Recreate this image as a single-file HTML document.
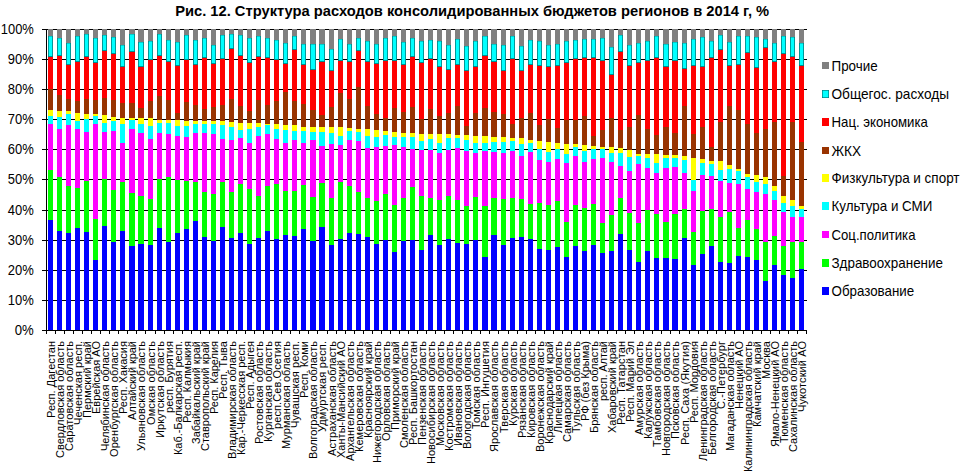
<!DOCTYPE html><html><head><meta charset="utf-8"><title>chart</title><style>
html,body{margin:0;padding:0;background:#fff;}body{width:970px;height:474px;overflow:hidden;font-family:"Liberation Sans",sans-serif;}svg{display:block;}text{font-family:"Liberation Sans",sans-serif;fill:#000;}
</style></head><body>
<svg width="970" height="474" viewBox="0 0 970 474">
<rect x="0" y="0" width="970" height="474" fill="#fff"/>
<g shape-rendering="crispEdges" fill="#000">
<rect x="42" y="29" width="765" height="1"/>
<rect x="42" y="59" width="765" height="1"/>
<rect x="42" y="89" width="765" height="1"/>
<rect x="42" y="119" width="765" height="1"/>
<rect x="42" y="149" width="765" height="1"/>
<rect x="42" y="179" width="765" height="1"/>
<rect x="42" y="210" width="765" height="1"/>
<rect x="42" y="240" width="765" height="1"/>
<rect x="42" y="270" width="765" height="1"/>
<rect x="42" y="300" width="765" height="1"/>
<rect x="42" y="330" width="765" height="1"/>
<rect x="46" y="29" width="1" height="302"/>
<rect x="46" y="330" width="1" height="4"/>
<rect x="55" y="330" width="1" height="4"/>
<rect x="64" y="330" width="1" height="4"/>
<rect x="73" y="330" width="1" height="4"/>
<rect x="82" y="330" width="1" height="4"/>
<rect x="91" y="330" width="1" height="4"/>
<rect x="100" y="330" width="1" height="4"/>
<rect x="109" y="330" width="1" height="4"/>
<rect x="118" y="330" width="1" height="4"/>
<rect x="127" y="330" width="1" height="4"/>
<rect x="136" y="330" width="1" height="4"/>
<rect x="145" y="330" width="1" height="4"/>
<rect x="155" y="330" width="1" height="4"/>
<rect x="164" y="330" width="1" height="4"/>
<rect x="173" y="330" width="1" height="4"/>
<rect x="182" y="330" width="1" height="4"/>
<rect x="191" y="330" width="1" height="4"/>
<rect x="200" y="330" width="1" height="4"/>
<rect x="209" y="330" width="1" height="4"/>
<rect x="218" y="330" width="1" height="4"/>
<rect x="227" y="330" width="1" height="4"/>
<rect x="236" y="330" width="1" height="4"/>
<rect x="245" y="330" width="1" height="4"/>
<rect x="254" y="330" width="1" height="4"/>
<rect x="263" y="330" width="1" height="4"/>
<rect x="272" y="330" width="1" height="4"/>
<rect x="281" y="330" width="1" height="4"/>
<rect x="290" y="330" width="1" height="4"/>
<rect x="299" y="330" width="1" height="4"/>
<rect x="308" y="330" width="1" height="4"/>
<rect x="317" y="330" width="1" height="4"/>
<rect x="327" y="330" width="1" height="4"/>
<rect x="336" y="330" width="1" height="4"/>
<rect x="345" y="330" width="1" height="4"/>
<rect x="354" y="330" width="1" height="4"/>
<rect x="363" y="330" width="1" height="4"/>
<rect x="372" y="330" width="1" height="4"/>
<rect x="381" y="330" width="1" height="4"/>
<rect x="390" y="330" width="1" height="4"/>
<rect x="399" y="330" width="1" height="4"/>
<rect x="408" y="330" width="1" height="4"/>
<rect x="417" y="330" width="1" height="4"/>
<rect x="426" y="330" width="1" height="4"/>
<rect x="435" y="330" width="1" height="4"/>
<rect x="444" y="330" width="1" height="4"/>
<rect x="453" y="330" width="1" height="4"/>
<rect x="462" y="330" width="1" height="4"/>
<rect x="471" y="330" width="1" height="4"/>
<rect x="480" y="330" width="1" height="4"/>
<rect x="489" y="330" width="1" height="4"/>
<rect x="498" y="330" width="1" height="4"/>
<rect x="508" y="330" width="1" height="4"/>
<rect x="517" y="330" width="1" height="4"/>
<rect x="526" y="330" width="1" height="4"/>
<rect x="535" y="330" width="1" height="4"/>
<rect x="544" y="330" width="1" height="4"/>
<rect x="553" y="330" width="1" height="4"/>
<rect x="562" y="330" width="1" height="4"/>
<rect x="571" y="330" width="1" height="4"/>
<rect x="580" y="330" width="1" height="4"/>
<rect x="589" y="330" width="1" height="4"/>
<rect x="598" y="330" width="1" height="4"/>
<rect x="607" y="330" width="1" height="4"/>
<rect x="616" y="330" width="1" height="4"/>
<rect x="625" y="330" width="1" height="4"/>
<rect x="634" y="330" width="1" height="4"/>
<rect x="643" y="330" width="1" height="4"/>
<rect x="652" y="330" width="1" height="4"/>
<rect x="661" y="330" width="1" height="4"/>
<rect x="670" y="330" width="1" height="4"/>
<rect x="679" y="330" width="1" height="4"/>
<rect x="689" y="330" width="1" height="4"/>
<rect x="698" y="330" width="1" height="4"/>
<rect x="707" y="330" width="1" height="4"/>
<rect x="716" y="330" width="1" height="4"/>
<rect x="725" y="330" width="1" height="4"/>
<rect x="734" y="330" width="1" height="4"/>
<rect x="743" y="330" width="1" height="4"/>
<rect x="752" y="330" width="1" height="4"/>
<rect x="761" y="330" width="1" height="4"/>
<rect x="770" y="330" width="1" height="4"/>
<rect x="779" y="330" width="1" height="4"/>
<rect x="788" y="330" width="1" height="4"/>
<rect x="797" y="330" width="1" height="4"/>
<rect x="806" y="330" width="1" height="4"/>
</g>
<g shape-rendering="crispEdges">
<rect x="48" y="220" width="5" height="110" fill="#0000FF"/>
<rect x="48" y="170" width="5" height="50" fill="#00FF00"/>
<rect x="48" y="124" width="5" height="46" fill="#FF00FF"/>
<rect x="48" y="116" width="5" height="8" fill="#00FFFF"/>
<rect x="48" y="110" width="5" height="6" fill="#FFFF00"/>
<rect x="48" y="89" width="5" height="21" fill="#993300"/>
<rect x="48" y="57" width="5" height="32" fill="#FF0000"/>
<rect x="48" y="36" width="5" height="21" fill="#008080"/>
<rect x="48.8" y="36.4" width="3.4" height="19.7" fill="#00FFFF" shape-rendering="auto"/>
<rect x="48" y="29" width="5" height="7" fill="#808080"/>
<rect x="57" y="231" width="5" height="99" fill="#0000FF"/>
<rect x="57" y="177" width="5" height="54" fill="#00FF00"/>
<rect x="57" y="129" width="5" height="48" fill="#FF00FF"/>
<rect x="57" y="117" width="5" height="12" fill="#00FFFF"/>
<rect x="57" y="111" width="5" height="6" fill="#FFFF00"/>
<rect x="57" y="95" width="5" height="16" fill="#993300"/>
<rect x="57" y="56" width="5" height="39" fill="#FF0000"/>
<rect x="57" y="38" width="5" height="18" fill="#008080"/>
<rect x="57.8" y="38.4" width="3.4" height="16.7" fill="#00FFFF" shape-rendering="auto"/>
<rect x="57" y="29" width="5" height="9" fill="#808080"/>
<rect x="66" y="233" width="5" height="97" fill="#0000FF"/>
<rect x="66" y="186" width="5" height="47" fill="#00FF00"/>
<rect x="66" y="125" width="5" height="61" fill="#FF00FF"/>
<rect x="66" y="114" width="5" height="11" fill="#00FFFF"/>
<rect x="66" y="111" width="5" height="3" fill="#FFFF00"/>
<rect x="66" y="99" width="5" height="12" fill="#993300"/>
<rect x="66" y="65" width="5" height="34" fill="#FF0000"/>
<rect x="66" y="43" width="5" height="22" fill="#008080"/>
<rect x="66.8" y="43.4" width="3.4" height="20.7" fill="#00FFFF" shape-rendering="auto"/>
<rect x="66" y="29" width="5" height="14" fill="#808080"/>
<rect x="75" y="228" width="5" height="102" fill="#0000FF"/>
<rect x="75" y="188" width="5" height="40" fill="#00FF00"/>
<rect x="75" y="129" width="5" height="59" fill="#FF00FF"/>
<rect x="75" y="121" width="5" height="8" fill="#00FFFF"/>
<rect x="75" y="113" width="5" height="8" fill="#FFFF00"/>
<rect x="75" y="101" width="5" height="12" fill="#993300"/>
<rect x="75" y="62" width="5" height="39" fill="#FF0000"/>
<rect x="75" y="36" width="5" height="26" fill="#008080"/>
<rect x="75.8" y="36.4" width="3.4" height="24.7" fill="#00FFFF" shape-rendering="auto"/>
<rect x="75" y="29" width="5" height="7" fill="#808080"/>
<rect x="84" y="232" width="5" height="98" fill="#0000FF"/>
<rect x="84" y="181" width="5" height="51" fill="#00FF00"/>
<rect x="84" y="132" width="5" height="49" fill="#FF00FF"/>
<rect x="84" y="119" width="5" height="13" fill="#00FFFF"/>
<rect x="84" y="114" width="5" height="5" fill="#FFFF00"/>
<rect x="84" y="99" width="5" height="15" fill="#993300"/>
<rect x="84" y="57" width="5" height="42" fill="#FF0000"/>
<rect x="84" y="34" width="5" height="23" fill="#008080"/>
<rect x="84.8" y="34.4" width="3.4" height="21.7" fill="#00FFFF" shape-rendering="auto"/>
<rect x="84" y="29" width="5" height="5" fill="#808080"/>
<rect x="93" y="260" width="5" height="70" fill="#0000FF"/>
<rect x="93" y="219" width="5" height="41" fill="#00FF00"/>
<rect x="93" y="124" width="5" height="95" fill="#FF00FF"/>
<rect x="93" y="116" width="5" height="8" fill="#00FFFF"/>
<rect x="93" y="114" width="5" height="2" fill="#FFFF00"/>
<rect x="93" y="100" width="5" height="14" fill="#993300"/>
<rect x="93" y="63" width="5" height="37" fill="#FF0000"/>
<rect x="93" y="38" width="5" height="25" fill="#008080"/>
<rect x="93.8" y="38.4" width="3.4" height="23.7" fill="#00FFFF" shape-rendering="auto"/>
<rect x="93" y="29" width="5" height="9" fill="#808080"/>
<rect x="102" y="226" width="5" height="104" fill="#0000FF"/>
<rect x="102" y="179" width="5" height="47" fill="#00FF00"/>
<rect x="102" y="132" width="5" height="47" fill="#FF00FF"/>
<rect x="102" y="123" width="5" height="9" fill="#00FFFF"/>
<rect x="102" y="115" width="5" height="8" fill="#FFFF00"/>
<rect x="102" y="98" width="5" height="17" fill="#993300"/>
<rect x="102" y="51" width="5" height="47" fill="#FF0000"/>
<rect x="102" y="35" width="5" height="16" fill="#008080"/>
<rect x="102.8" y="35.4" width="3.4" height="14.7" fill="#00FFFF" shape-rendering="auto"/>
<rect x="102" y="29" width="5" height="6" fill="#808080"/>
<rect x="111" y="242" width="5" height="88" fill="#0000FF"/>
<rect x="111" y="190" width="5" height="52" fill="#00FF00"/>
<rect x="111" y="131" width="5" height="59" fill="#FF00FF"/>
<rect x="111" y="121" width="5" height="10" fill="#00FFFF"/>
<rect x="111" y="117" width="5" height="4" fill="#FFFF00"/>
<rect x="111" y="100" width="5" height="17" fill="#993300"/>
<rect x="111" y="54" width="5" height="46" fill="#FF0000"/>
<rect x="111" y="37" width="5" height="17" fill="#008080"/>
<rect x="111.8" y="37.4" width="3.4" height="15.7" fill="#00FFFF" shape-rendering="auto"/>
<rect x="111" y="29" width="5" height="8" fill="#808080"/>
<rect x="120" y="231" width="5" height="99" fill="#0000FF"/>
<rect x="120" y="182" width="5" height="49" fill="#00FF00"/>
<rect x="120" y="143" width="5" height="39" fill="#FF00FF"/>
<rect x="120" y="124" width="5" height="19" fill="#00FFFF"/>
<rect x="120" y="118" width="5" height="6" fill="#FFFF00"/>
<rect x="120" y="103" width="5" height="15" fill="#993300"/>
<rect x="120" y="67" width="5" height="36" fill="#FF0000"/>
<rect x="120" y="45" width="5" height="22" fill="#008080"/>
<rect x="120.8" y="45.4" width="3.4" height="20.7" fill="#00FFFF" shape-rendering="auto"/>
<rect x="120" y="29" width="5" height="16" fill="#808080"/>
<rect x="129" y="246" width="6" height="84" fill="#0000FF"/>
<rect x="129" y="193" width="6" height="53" fill="#00FF00"/>
<rect x="129" y="129" width="6" height="64" fill="#FF00FF"/>
<rect x="129" y="120" width="6" height="9" fill="#00FFFF"/>
<rect x="129" y="118" width="6" height="2" fill="#FFFF00"/>
<rect x="129" y="103" width="6" height="15" fill="#993300"/>
<rect x="129" y="52" width="6" height="51" fill="#FF0000"/>
<rect x="129" y="34" width="6" height="18" fill="#008080"/>
<rect x="129.8" y="34.4" width="4.4" height="16.7" fill="#00FFFF" shape-rendering="auto"/>
<rect x="129" y="29" width="6" height="5" fill="#808080"/>
<rect x="138" y="244" width="6" height="86" fill="#0000FF"/>
<rect x="138" y="196" width="6" height="48" fill="#00FF00"/>
<rect x="138" y="133" width="6" height="63" fill="#FF00FF"/>
<rect x="138" y="124" width="6" height="9" fill="#00FFFF"/>
<rect x="138" y="118" width="6" height="6" fill="#FFFF00"/>
<rect x="138" y="108" width="6" height="10" fill="#993300"/>
<rect x="138" y="67" width="6" height="41" fill="#FF0000"/>
<rect x="138" y="42" width="6" height="25" fill="#008080"/>
<rect x="138.8" y="42.4" width="4.4" height="23.7" fill="#00FFFF" shape-rendering="auto"/>
<rect x="138" y="29" width="6" height="13" fill="#808080"/>
<rect x="148" y="245" width="5" height="85" fill="#0000FF"/>
<rect x="148" y="199" width="5" height="46" fill="#00FF00"/>
<rect x="148" y="139" width="5" height="60" fill="#FF00FF"/>
<rect x="148" y="126" width="5" height="13" fill="#00FFFF"/>
<rect x="148" y="118" width="5" height="8" fill="#FFFF00"/>
<rect x="148" y="101" width="5" height="17" fill="#993300"/>
<rect x="148" y="60" width="5" height="41" fill="#FF0000"/>
<rect x="148" y="41" width="5" height="19" fill="#008080"/>
<rect x="148.8" y="41.4" width="3.4" height="17.7" fill="#00FFFF" shape-rendering="auto"/>
<rect x="148" y="29" width="5" height="12" fill="#808080"/>
<rect x="157" y="228" width="5" height="102" fill="#0000FF"/>
<rect x="157" y="179" width="5" height="49" fill="#00FF00"/>
<rect x="157" y="133" width="5" height="46" fill="#FF00FF"/>
<rect x="157" y="123" width="5" height="10" fill="#00FFFF"/>
<rect x="157" y="120" width="5" height="3" fill="#FFFF00"/>
<rect x="157" y="96" width="5" height="24" fill="#993300"/>
<rect x="157" y="56" width="5" height="40" fill="#FF0000"/>
<rect x="157" y="34" width="5" height="22" fill="#008080"/>
<rect x="157.8" y="34.4" width="3.4" height="20.7" fill="#00FFFF" shape-rendering="auto"/>
<rect x="157" y="29" width="5" height="5" fill="#808080"/>
<rect x="166" y="242" width="5" height="88" fill="#0000FF"/>
<rect x="166" y="177" width="5" height="65" fill="#00FF00"/>
<rect x="166" y="134" width="5" height="43" fill="#FF00FF"/>
<rect x="166" y="123" width="5" height="11" fill="#00FFFF"/>
<rect x="166" y="120" width="5" height="3" fill="#FFFF00"/>
<rect x="166" y="100" width="5" height="20" fill="#993300"/>
<rect x="166" y="62" width="5" height="38" fill="#FF0000"/>
<rect x="166" y="40" width="5" height="22" fill="#008080"/>
<rect x="166.8" y="40.4" width="3.4" height="20.7" fill="#00FFFF" shape-rendering="auto"/>
<rect x="166" y="29" width="5" height="11" fill="#808080"/>
<rect x="175" y="233" width="5" height="97" fill="#0000FF"/>
<rect x="175" y="180" width="5" height="53" fill="#00FF00"/>
<rect x="175" y="136" width="5" height="44" fill="#FF00FF"/>
<rect x="175" y="126" width="5" height="10" fill="#00FFFF"/>
<rect x="175" y="120" width="5" height="6" fill="#FFFF00"/>
<rect x="175" y="113" width="5" height="7" fill="#993300"/>
<rect x="175" y="66" width="5" height="47" fill="#FF0000"/>
<rect x="175" y="42" width="5" height="24" fill="#008080"/>
<rect x="175.8" y="42.4" width="3.4" height="22.7" fill="#00FFFF" shape-rendering="auto"/>
<rect x="175" y="29" width="5" height="13" fill="#808080"/>
<rect x="184" y="229" width="5" height="101" fill="#0000FF"/>
<rect x="184" y="181" width="5" height="48" fill="#00FF00"/>
<rect x="184" y="137" width="5" height="44" fill="#FF00FF"/>
<rect x="184" y="126" width="5" height="11" fill="#00FFFF"/>
<rect x="184" y="121" width="5" height="5" fill="#FFFF00"/>
<rect x="184" y="102" width="5" height="19" fill="#993300"/>
<rect x="184" y="60" width="5" height="42" fill="#FF0000"/>
<rect x="184" y="35" width="5" height="25" fill="#008080"/>
<rect x="184.8" y="35.4" width="3.4" height="23.7" fill="#00FFFF" shape-rendering="auto"/>
<rect x="184" y="29" width="5" height="6" fill="#808080"/>
<rect x="193" y="221" width="5" height="109" fill="#0000FF"/>
<rect x="193" y="182" width="5" height="39" fill="#00FF00"/>
<rect x="193" y="133" width="5" height="49" fill="#FF00FF"/>
<rect x="193" y="124" width="5" height="9" fill="#00FFFF"/>
<rect x="193" y="121" width="5" height="3" fill="#FFFF00"/>
<rect x="193" y="105" width="5" height="16" fill="#993300"/>
<rect x="193" y="65" width="5" height="40" fill="#FF0000"/>
<rect x="193" y="40" width="5" height="25" fill="#008080"/>
<rect x="193.8" y="40.4" width="3.4" height="23.7" fill="#00FFFF" shape-rendering="auto"/>
<rect x="193" y="29" width="5" height="11" fill="#808080"/>
<rect x="202" y="237" width="5" height="93" fill="#0000FF"/>
<rect x="202" y="192" width="5" height="45" fill="#00FF00"/>
<rect x="202" y="133" width="5" height="59" fill="#FF00FF"/>
<rect x="202" y="124" width="5" height="9" fill="#00FFFF"/>
<rect x="202" y="121" width="5" height="3" fill="#FFFF00"/>
<rect x="202" y="109" width="5" height="12" fill="#993300"/>
<rect x="202" y="58" width="5" height="51" fill="#FF0000"/>
<rect x="202" y="38" width="5" height="20" fill="#008080"/>
<rect x="202.8" y="38.4" width="3.4" height="18.7" fill="#00FFFF" shape-rendering="auto"/>
<rect x="202" y="29" width="5" height="9" fill="#808080"/>
<rect x="211" y="241" width="5" height="89" fill="#0000FF"/>
<rect x="211" y="194" width="5" height="47" fill="#00FF00"/>
<rect x="211" y="134" width="5" height="60" fill="#FF00FF"/>
<rect x="211" y="124" width="5" height="10" fill="#00FFFF"/>
<rect x="211" y="121" width="5" height="3" fill="#FFFF00"/>
<rect x="211" y="107" width="5" height="14" fill="#993300"/>
<rect x="211" y="64" width="5" height="43" fill="#FF0000"/>
<rect x="211" y="45" width="5" height="19" fill="#008080"/>
<rect x="211.8" y="45.4" width="3.4" height="17.7" fill="#00FFFF" shape-rendering="auto"/>
<rect x="211" y="29" width="5" height="16" fill="#808080"/>
<rect x="220" y="227" width="5" height="103" fill="#0000FF"/>
<rect x="220" y="182" width="5" height="45" fill="#00FF00"/>
<rect x="220" y="139" width="5" height="43" fill="#FF00FF"/>
<rect x="220" y="125" width="5" height="14" fill="#00FFFF"/>
<rect x="220" y="121" width="5" height="4" fill="#FFFF00"/>
<rect x="220" y="105" width="5" height="16" fill="#993300"/>
<rect x="220" y="59" width="5" height="46" fill="#FF0000"/>
<rect x="220" y="35" width="5" height="24" fill="#008080"/>
<rect x="220.8" y="35.4" width="3.4" height="22.7" fill="#00FFFF" shape-rendering="auto"/>
<rect x="220" y="29" width="5" height="6" fill="#808080"/>
<rect x="229" y="238" width="5" height="92" fill="#0000FF"/>
<rect x="229" y="192" width="5" height="46" fill="#00FF00"/>
<rect x="229" y="140" width="5" height="52" fill="#FF00FF"/>
<rect x="229" y="127" width="5" height="13" fill="#00FFFF"/>
<rect x="229" y="122" width="5" height="5" fill="#FFFF00"/>
<rect x="229" y="99" width="5" height="23" fill="#993300"/>
<rect x="229" y="49" width="5" height="50" fill="#FF0000"/>
<rect x="229" y="34" width="5" height="15" fill="#008080"/>
<rect x="229.8" y="34.4" width="3.4" height="13.7" fill="#00FFFF" shape-rendering="auto"/>
<rect x="229" y="29" width="5" height="5" fill="#808080"/>
<rect x="238" y="233" width="5" height="97" fill="#0000FF"/>
<rect x="238" y="184" width="5" height="49" fill="#00FF00"/>
<rect x="238" y="138" width="5" height="46" fill="#FF00FF"/>
<rect x="238" y="130" width="5" height="8" fill="#00FFFF"/>
<rect x="238" y="123" width="5" height="7" fill="#FFFF00"/>
<rect x="238" y="106" width="5" height="17" fill="#993300"/>
<rect x="238" y="56" width="5" height="50" fill="#FF0000"/>
<rect x="238" y="35" width="5" height="21" fill="#008080"/>
<rect x="238.8" y="35.4" width="3.4" height="19.7" fill="#00FFFF" shape-rendering="auto"/>
<rect x="238" y="29" width="5" height="6" fill="#808080"/>
<rect x="247" y="244" width="5" height="86" fill="#0000FF"/>
<rect x="247" y="189" width="5" height="55" fill="#00FF00"/>
<rect x="247" y="143" width="5" height="46" fill="#FF00FF"/>
<rect x="247" y="129" width="5" height="14" fill="#00FFFF"/>
<rect x="247" y="123" width="5" height="6" fill="#FFFF00"/>
<rect x="247" y="111" width="5" height="12" fill="#993300"/>
<rect x="247" y="63" width="5" height="48" fill="#FF0000"/>
<rect x="247" y="38" width="5" height="25" fill="#008080"/>
<rect x="247.8" y="38.4" width="3.4" height="23.7" fill="#00FFFF" shape-rendering="auto"/>
<rect x="247" y="29" width="5" height="9" fill="#808080"/>
<rect x="256" y="238" width="5" height="92" fill="#0000FF"/>
<rect x="256" y="196" width="5" height="42" fill="#00FF00"/>
<rect x="256" y="136" width="5" height="60" fill="#FF00FF"/>
<rect x="256" y="127" width="5" height="9" fill="#00FFFF"/>
<rect x="256" y="123" width="5" height="4" fill="#FFFF00"/>
<rect x="256" y="100" width="5" height="23" fill="#993300"/>
<rect x="256" y="57" width="5" height="43" fill="#FF0000"/>
<rect x="256" y="36" width="5" height="21" fill="#008080"/>
<rect x="256.8" y="36.4" width="3.4" height="19.7" fill="#00FFFF" shape-rendering="auto"/>
<rect x="256" y="29" width="5" height="7" fill="#808080"/>
<rect x="265" y="231" width="5" height="99" fill="#0000FF"/>
<rect x="265" y="186" width="5" height="45" fill="#00FF00"/>
<rect x="265" y="134" width="5" height="52" fill="#FF00FF"/>
<rect x="265" y="125" width="5" height="9" fill="#00FFFF"/>
<rect x="265" y="124" width="5" height="1" fill="#FFFF00"/>
<rect x="265" y="105" width="5" height="19" fill="#993300"/>
<rect x="265" y="58" width="5" height="47" fill="#FF0000"/>
<rect x="265" y="38" width="5" height="20" fill="#008080"/>
<rect x="265.8" y="38.4" width="3.4" height="18.7" fill="#00FFFF" shape-rendering="auto"/>
<rect x="265" y="29" width="5" height="9" fill="#808080"/>
<rect x="274" y="239" width="5" height="91" fill="#0000FF"/>
<rect x="274" y="184" width="5" height="55" fill="#00FF00"/>
<rect x="274" y="139" width="5" height="45" fill="#FF00FF"/>
<rect x="274" y="129" width="5" height="10" fill="#00FFFF"/>
<rect x="274" y="124" width="5" height="5" fill="#FFFF00"/>
<rect x="274" y="101" width="5" height="23" fill="#993300"/>
<rect x="274" y="60" width="5" height="41" fill="#FF0000"/>
<rect x="274" y="40" width="5" height="20" fill="#008080"/>
<rect x="274.8" y="40.4" width="3.4" height="18.7" fill="#00FFFF" shape-rendering="auto"/>
<rect x="274" y="29" width="5" height="11" fill="#808080"/>
<rect x="283" y="235" width="5" height="95" fill="#0000FF"/>
<rect x="283" y="191" width="5" height="44" fill="#00FF00"/>
<rect x="283" y="143" width="5" height="48" fill="#FF00FF"/>
<rect x="283" y="130" width="5" height="13" fill="#00FFFF"/>
<rect x="283" y="125" width="5" height="5" fill="#FFFF00"/>
<rect x="283" y="92" width="5" height="33" fill="#993300"/>
<rect x="283" y="64" width="5" height="28" fill="#FF0000"/>
<rect x="283" y="43" width="5" height="21" fill="#008080"/>
<rect x="283.8" y="43.4" width="3.4" height="19.7" fill="#00FFFF" shape-rendering="auto"/>
<rect x="283" y="29" width="5" height="14" fill="#808080"/>
<rect x="292" y="236" width="5" height="94" fill="#0000FF"/>
<rect x="292" y="191" width="5" height="45" fill="#00FF00"/>
<rect x="292" y="140" width="5" height="51" fill="#FF00FF"/>
<rect x="292" y="131" width="5" height="9" fill="#00FFFF"/>
<rect x="292" y="125" width="5" height="6" fill="#FFFF00"/>
<rect x="292" y="101" width="5" height="24" fill="#993300"/>
<rect x="292" y="50" width="5" height="51" fill="#FF0000"/>
<rect x="292" y="36" width="5" height="14" fill="#008080"/>
<rect x="292.8" y="36.4" width="3.4" height="12.7" fill="#00FFFF" shape-rendering="auto"/>
<rect x="292" y="29" width="5" height="7" fill="#808080"/>
<rect x="301" y="229" width="5" height="101" fill="#0000FF"/>
<rect x="301" y="185" width="5" height="44" fill="#00FF00"/>
<rect x="301" y="143" width="5" height="42" fill="#FF00FF"/>
<rect x="301" y="131" width="5" height="12" fill="#00FFFF"/>
<rect x="301" y="127" width="5" height="4" fill="#FFFF00"/>
<rect x="301" y="104" width="5" height="23" fill="#993300"/>
<rect x="301" y="65" width="5" height="39" fill="#FF0000"/>
<rect x="301" y="44" width="5" height="21" fill="#008080"/>
<rect x="301.8" y="44.4" width="3.4" height="19.7" fill="#00FFFF" shape-rendering="auto"/>
<rect x="301" y="29" width="5" height="15" fill="#808080"/>
<rect x="310" y="241" width="6" height="89" fill="#0000FF"/>
<rect x="310" y="197" width="6" height="44" fill="#00FF00"/>
<rect x="310" y="140" width="6" height="57" fill="#FF00FF"/>
<rect x="310" y="132" width="6" height="8" fill="#00FFFF"/>
<rect x="310" y="127" width="6" height="5" fill="#FFFF00"/>
<rect x="310" y="110" width="6" height="17" fill="#993300"/>
<rect x="310" y="70" width="6" height="40" fill="#FF0000"/>
<rect x="310" y="44" width="6" height="26" fill="#008080"/>
<rect x="310.8" y="44.4" width="4.4" height="24.7" fill="#00FFFF" shape-rendering="auto"/>
<rect x="310" y="29" width="6" height="15" fill="#808080"/>
<rect x="319" y="227" width="6" height="103" fill="#0000FF"/>
<rect x="319" y="183" width="6" height="44" fill="#00FF00"/>
<rect x="319" y="146" width="6" height="37" fill="#FF00FF"/>
<rect x="319" y="132" width="6" height="14" fill="#00FFFF"/>
<rect x="319" y="127" width="6" height="5" fill="#FFFF00"/>
<rect x="319" y="115" width="6" height="12" fill="#993300"/>
<rect x="319" y="62" width="6" height="53" fill="#FF0000"/>
<rect x="319" y="44" width="6" height="18" fill="#008080"/>
<rect x="319.8" y="44.4" width="4.4" height="16.7" fill="#00FFFF" shape-rendering="auto"/>
<rect x="319" y="29" width="6" height="15" fill="#808080"/>
<rect x="329" y="245" width="5" height="85" fill="#0000FF"/>
<rect x="329" y="198" width="5" height="47" fill="#00FF00"/>
<rect x="329" y="144" width="5" height="54" fill="#FF00FF"/>
<rect x="329" y="133" width="5" height="11" fill="#00FFFF"/>
<rect x="329" y="127" width="5" height="6" fill="#FFFF00"/>
<rect x="329" y="107" width="5" height="20" fill="#993300"/>
<rect x="329" y="71" width="5" height="36" fill="#FF0000"/>
<rect x="329" y="49" width="5" height="22" fill="#008080"/>
<rect x="329.8" y="49.4" width="3.4" height="20.7" fill="#00FFFF" shape-rendering="auto"/>
<rect x="329" y="29" width="5" height="20" fill="#808080"/>
<rect x="338" y="239" width="5" height="91" fill="#0000FF"/>
<rect x="338" y="182" width="5" height="57" fill="#00FF00"/>
<rect x="338" y="145" width="5" height="37" fill="#FF00FF"/>
<rect x="338" y="136" width="5" height="9" fill="#00FFFF"/>
<rect x="338" y="127" width="5" height="9" fill="#FFFF00"/>
<rect x="338" y="93" width="5" height="34" fill="#993300"/>
<rect x="338" y="61" width="5" height="32" fill="#FF0000"/>
<rect x="338" y="39" width="5" height="22" fill="#008080"/>
<rect x="338.8" y="39.4" width="3.4" height="20.7" fill="#00FFFF" shape-rendering="auto"/>
<rect x="338" y="29" width="5" height="10" fill="#808080"/>
<rect x="347" y="233" width="5" height="97" fill="#0000FF"/>
<rect x="347" y="186" width="5" height="47" fill="#00FF00"/>
<rect x="347" y="140" width="5" height="46" fill="#FF00FF"/>
<rect x="347" y="131" width="5" height="9" fill="#00FFFF"/>
<rect x="347" y="128" width="5" height="3" fill="#FFFF00"/>
<rect x="347" y="99" width="5" height="29" fill="#993300"/>
<rect x="347" y="62" width="5" height="37" fill="#FF0000"/>
<rect x="347" y="44" width="5" height="18" fill="#008080"/>
<rect x="347.8" y="44.4" width="3.4" height="16.7" fill="#00FFFF" shape-rendering="auto"/>
<rect x="347" y="29" width="5" height="15" fill="#808080"/>
<rect x="356" y="234" width="5" height="96" fill="#0000FF"/>
<rect x="356" y="192" width="5" height="42" fill="#00FF00"/>
<rect x="356" y="141" width="5" height="51" fill="#FF00FF"/>
<rect x="356" y="132" width="5" height="9" fill="#00FFFF"/>
<rect x="356" y="129" width="5" height="3" fill="#FFFF00"/>
<rect x="356" y="87" width="5" height="42" fill="#993300"/>
<rect x="356" y="51" width="5" height="36" fill="#FF0000"/>
<rect x="356" y="38" width="5" height="13" fill="#008080"/>
<rect x="356.8" y="38.4" width="3.4" height="11.7" fill="#00FFFF" shape-rendering="auto"/>
<rect x="356" y="29" width="5" height="9" fill="#808080"/>
<rect x="365" y="237" width="5" height="93" fill="#0000FF"/>
<rect x="365" y="198" width="5" height="39" fill="#00FF00"/>
<rect x="365" y="148" width="5" height="50" fill="#FF00FF"/>
<rect x="365" y="136" width="5" height="12" fill="#00FFFF"/>
<rect x="365" y="129" width="5" height="7" fill="#FFFF00"/>
<rect x="365" y="106" width="5" height="23" fill="#993300"/>
<rect x="365" y="62" width="5" height="44" fill="#FF0000"/>
<rect x="365" y="41" width="5" height="21" fill="#008080"/>
<rect x="365.8" y="41.4" width="3.4" height="19.7" fill="#00FFFF" shape-rendering="auto"/>
<rect x="365" y="29" width="5" height="12" fill="#808080"/>
<rect x="374" y="244" width="5" height="86" fill="#0000FF"/>
<rect x="374" y="201" width="5" height="43" fill="#00FF00"/>
<rect x="374" y="147" width="5" height="54" fill="#FF00FF"/>
<rect x="374" y="137" width="5" height="10" fill="#00FFFF"/>
<rect x="374" y="130" width="5" height="7" fill="#FFFF00"/>
<rect x="374" y="114" width="5" height="16" fill="#993300"/>
<rect x="374" y="64" width="5" height="50" fill="#FF0000"/>
<rect x="374" y="44" width="5" height="20" fill="#008080"/>
<rect x="374.8" y="44.4" width="3.4" height="18.7" fill="#00FFFF" shape-rendering="auto"/>
<rect x="374" y="29" width="5" height="15" fill="#808080"/>
<rect x="383" y="240" width="5" height="90" fill="#0000FF"/>
<rect x="383" y="194" width="5" height="46" fill="#00FF00"/>
<rect x="383" y="146" width="5" height="48" fill="#FF00FF"/>
<rect x="383" y="135" width="5" height="11" fill="#00FFFF"/>
<rect x="383" y="131" width="5" height="4" fill="#FFFF00"/>
<rect x="383" y="118" width="5" height="13" fill="#993300"/>
<rect x="383" y="61" width="5" height="57" fill="#FF0000"/>
<rect x="383" y="38" width="5" height="23" fill="#008080"/>
<rect x="383.8" y="38.4" width="3.4" height="21.7" fill="#00FFFF" shape-rendering="auto"/>
<rect x="383" y="29" width="5" height="9" fill="#808080"/>
<rect x="392" y="252" width="5" height="78" fill="#0000FF"/>
<rect x="392" y="205" width="5" height="47" fill="#00FF00"/>
<rect x="392" y="145" width="5" height="60" fill="#FF00FF"/>
<rect x="392" y="137" width="5" height="8" fill="#00FFFF"/>
<rect x="392" y="132" width="5" height="5" fill="#FFFF00"/>
<rect x="392" y="108" width="5" height="24" fill="#993300"/>
<rect x="392" y="61" width="5" height="47" fill="#FF0000"/>
<rect x="392" y="36" width="5" height="25" fill="#008080"/>
<rect x="392.8" y="36.4" width="3.4" height="23.7" fill="#00FFFF" shape-rendering="auto"/>
<rect x="392" y="29" width="5" height="7" fill="#808080"/>
<rect x="401" y="241" width="5" height="89" fill="#0000FF"/>
<rect x="401" y="198" width="5" height="43" fill="#00FF00"/>
<rect x="401" y="147" width="5" height="51" fill="#FF00FF"/>
<rect x="401" y="137" width="5" height="10" fill="#00FFFF"/>
<rect x="401" y="133" width="5" height="4" fill="#FFFF00"/>
<rect x="401" y="112" width="5" height="21" fill="#993300"/>
<rect x="401" y="65" width="5" height="47" fill="#FF0000"/>
<rect x="401" y="42" width="5" height="23" fill="#008080"/>
<rect x="401.8" y="42.4" width="3.4" height="21.7" fill="#00FFFF" shape-rendering="auto"/>
<rect x="401" y="29" width="5" height="13" fill="#808080"/>
<rect x="410" y="240" width="5" height="90" fill="#0000FF"/>
<rect x="410" y="187" width="5" height="53" fill="#00FF00"/>
<rect x="410" y="149" width="5" height="38" fill="#FF00FF"/>
<rect x="410" y="137" width="5" height="12" fill="#00FFFF"/>
<rect x="410" y="133" width="5" height="4" fill="#FFFF00"/>
<rect x="410" y="107" width="5" height="26" fill="#993300"/>
<rect x="410" y="57" width="5" height="50" fill="#FF0000"/>
<rect x="410" y="38" width="5" height="19" fill="#008080"/>
<rect x="410.8" y="38.4" width="3.4" height="17.7" fill="#00FFFF" shape-rendering="auto"/>
<rect x="410" y="29" width="5" height="9" fill="#808080"/>
<rect x="419" y="250" width="5" height="80" fill="#0000FF"/>
<rect x="419" y="196" width="5" height="54" fill="#00FF00"/>
<rect x="419" y="150" width="5" height="46" fill="#FF00FF"/>
<rect x="419" y="141" width="5" height="9" fill="#00FFFF"/>
<rect x="419" y="134" width="5" height="7" fill="#FFFF00"/>
<rect x="419" y="119" width="5" height="15" fill="#993300"/>
<rect x="419" y="63" width="5" height="56" fill="#FF0000"/>
<rect x="419" y="41" width="5" height="22" fill="#008080"/>
<rect x="419.8" y="41.4" width="3.4" height="20.7" fill="#00FFFF" shape-rendering="auto"/>
<rect x="419" y="29" width="5" height="12" fill="#808080"/>
<rect x="428" y="235" width="5" height="95" fill="#0000FF"/>
<rect x="428" y="198" width="5" height="37" fill="#00FF00"/>
<rect x="428" y="150" width="5" height="48" fill="#FF00FF"/>
<rect x="428" y="139" width="5" height="11" fill="#00FFFF"/>
<rect x="428" y="134" width="5" height="5" fill="#FFFF00"/>
<rect x="428" y="109" width="5" height="25" fill="#993300"/>
<rect x="428" y="59" width="5" height="50" fill="#FF0000"/>
<rect x="428" y="40" width="5" height="19" fill="#008080"/>
<rect x="428.8" y="40.4" width="3.4" height="17.7" fill="#00FFFF" shape-rendering="auto"/>
<rect x="428" y="29" width="5" height="11" fill="#808080"/>
<rect x="437" y="245" width="5" height="85" fill="#0000FF"/>
<rect x="437" y="200" width="5" height="45" fill="#00FF00"/>
<rect x="437" y="153" width="5" height="47" fill="#FF00FF"/>
<rect x="437" y="143" width="5" height="10" fill="#00FFFF"/>
<rect x="437" y="134" width="5" height="9" fill="#FFFF00"/>
<rect x="437" y="116" width="5" height="18" fill="#993300"/>
<rect x="437" y="67" width="5" height="49" fill="#FF0000"/>
<rect x="437" y="41" width="5" height="26" fill="#008080"/>
<rect x="437.8" y="41.4" width="3.4" height="24.7" fill="#00FFFF" shape-rendering="auto"/>
<rect x="437" y="29" width="5" height="12" fill="#808080"/>
<rect x="446" y="239" width="5" height="91" fill="#0000FF"/>
<rect x="446" y="196" width="5" height="43" fill="#00FF00"/>
<rect x="446" y="150" width="5" height="46" fill="#FF00FF"/>
<rect x="446" y="138" width="5" height="12" fill="#00FFFF"/>
<rect x="446" y="134" width="5" height="4" fill="#FFFF00"/>
<rect x="446" y="113" width="5" height="21" fill="#993300"/>
<rect x="446" y="70" width="5" height="43" fill="#FF0000"/>
<rect x="446" y="45" width="5" height="25" fill="#008080"/>
<rect x="446.8" y="45.4" width="3.4" height="23.7" fill="#00FFFF" shape-rendering="auto"/>
<rect x="446" y="29" width="5" height="16" fill="#808080"/>
<rect x="455" y="243" width="5" height="87" fill="#0000FF"/>
<rect x="455" y="200" width="5" height="43" fill="#00FF00"/>
<rect x="455" y="148" width="5" height="52" fill="#FF00FF"/>
<rect x="455" y="138" width="5" height="10" fill="#00FFFF"/>
<rect x="455" y="135" width="5" height="3" fill="#FFFF00"/>
<rect x="455" y="106" width="5" height="29" fill="#993300"/>
<rect x="455" y="65" width="5" height="41" fill="#FF0000"/>
<rect x="455" y="39" width="5" height="26" fill="#008080"/>
<rect x="455.8" y="39.4" width="3.4" height="24.7" fill="#00FFFF" shape-rendering="auto"/>
<rect x="455" y="29" width="5" height="10" fill="#808080"/>
<rect x="464" y="244" width="5" height="86" fill="#0000FF"/>
<rect x="464" y="206" width="5" height="38" fill="#00FF00"/>
<rect x="464" y="151" width="5" height="55" fill="#FF00FF"/>
<rect x="464" y="140" width="5" height="11" fill="#00FFFF"/>
<rect x="464" y="135" width="5" height="5" fill="#FFFF00"/>
<rect x="464" y="126" width="5" height="9" fill="#993300"/>
<rect x="464" y="71" width="5" height="55" fill="#FF0000"/>
<rect x="464" y="46" width="5" height="25" fill="#008080"/>
<rect x="464.8" y="46.4" width="3.4" height="23.7" fill="#00FFFF" shape-rendering="auto"/>
<rect x="464" y="29" width="5" height="17" fill="#808080"/>
<rect x="473" y="240" width="5" height="90" fill="#0000FF"/>
<rect x="473" y="197" width="5" height="43" fill="#00FF00"/>
<rect x="473" y="153" width="5" height="44" fill="#FF00FF"/>
<rect x="473" y="143" width="5" height="10" fill="#00FFFF"/>
<rect x="473" y="136" width="5" height="7" fill="#FFFF00"/>
<rect x="473" y="113" width="5" height="23" fill="#993300"/>
<rect x="473" y="67" width="5" height="46" fill="#FF0000"/>
<rect x="473" y="41" width="5" height="26" fill="#008080"/>
<rect x="473.8" y="41.4" width="3.4" height="24.7" fill="#00FFFF" shape-rendering="auto"/>
<rect x="473" y="29" width="5" height="12" fill="#808080"/>
<rect x="482" y="257" width="6" height="73" fill="#0000FF"/>
<rect x="482" y="206" width="6" height="51" fill="#00FF00"/>
<rect x="482" y="151" width="6" height="55" fill="#FF00FF"/>
<rect x="482" y="143" width="6" height="8" fill="#00FFFF"/>
<rect x="482" y="136" width="6" height="7" fill="#FFFF00"/>
<rect x="482" y="108" width="6" height="28" fill="#993300"/>
<rect x="482" y="56" width="6" height="52" fill="#FF0000"/>
<rect x="482" y="36" width="6" height="20" fill="#008080"/>
<rect x="482.8" y="36.4" width="4.4" height="18.7" fill="#00FFFF" shape-rendering="auto"/>
<rect x="482" y="29" width="6" height="7" fill="#808080"/>
<rect x="491" y="235" width="6" height="95" fill="#0000FF"/>
<rect x="491" y="198" width="6" height="37" fill="#00FF00"/>
<rect x="491" y="152" width="6" height="46" fill="#FF00FF"/>
<rect x="491" y="142" width="6" height="10" fill="#00FFFF"/>
<rect x="491" y="137" width="6" height="5" fill="#FFFF00"/>
<rect x="491" y="112" width="6" height="25" fill="#993300"/>
<rect x="491" y="62" width="6" height="50" fill="#FF0000"/>
<rect x="491" y="44" width="6" height="18" fill="#008080"/>
<rect x="491.8" y="44.4" width="4.4" height="16.7" fill="#00FFFF" shape-rendering="auto"/>
<rect x="491" y="29" width="6" height="15" fill="#808080"/>
<rect x="501" y="245" width="5" height="85" fill="#0000FF"/>
<rect x="501" y="199" width="5" height="46" fill="#00FF00"/>
<rect x="501" y="153" width="5" height="46" fill="#FF00FF"/>
<rect x="501" y="142" width="5" height="11" fill="#00FFFF"/>
<rect x="501" y="137" width="5" height="5" fill="#FFFF00"/>
<rect x="501" y="114" width="5" height="23" fill="#993300"/>
<rect x="501" y="71" width="5" height="43" fill="#FF0000"/>
<rect x="501" y="45" width="5" height="26" fill="#008080"/>
<rect x="501.8" y="45.4" width="3.4" height="24.7" fill="#00FFFF" shape-rendering="auto"/>
<rect x="501" y="29" width="5" height="16" fill="#808080"/>
<rect x="510" y="238" width="5" height="92" fill="#0000FF"/>
<rect x="510" y="198" width="5" height="40" fill="#00FF00"/>
<rect x="510" y="151" width="5" height="47" fill="#FF00FF"/>
<rect x="510" y="141" width="5" height="10" fill="#00FFFF"/>
<rect x="510" y="138" width="5" height="3" fill="#FFFF00"/>
<rect x="510" y="124" width="5" height="14" fill="#993300"/>
<rect x="510" y="59" width="5" height="65" fill="#FF0000"/>
<rect x="510" y="36" width="5" height="23" fill="#008080"/>
<rect x="510.8" y="36.4" width="3.4" height="21.7" fill="#00FFFF" shape-rendering="auto"/>
<rect x="510" y="29" width="5" height="7" fill="#808080"/>
<rect x="519" y="237" width="5" height="93" fill="#0000FF"/>
<rect x="519" y="199" width="5" height="38" fill="#00FF00"/>
<rect x="519" y="156" width="5" height="43" fill="#FF00FF"/>
<rect x="519" y="144" width="5" height="12" fill="#00FFFF"/>
<rect x="519" y="138" width="5" height="6" fill="#FFFF00"/>
<rect x="519" y="118" width="5" height="20" fill="#993300"/>
<rect x="519" y="71" width="5" height="47" fill="#FF0000"/>
<rect x="519" y="46" width="5" height="25" fill="#008080"/>
<rect x="519.8" y="46.4" width="3.4" height="23.7" fill="#00FFFF" shape-rendering="auto"/>
<rect x="519" y="29" width="5" height="17" fill="#808080"/>
<rect x="528" y="239" width="5" height="91" fill="#0000FF"/>
<rect x="528" y="204" width="5" height="35" fill="#00FF00"/>
<rect x="528" y="152" width="5" height="52" fill="#FF00FF"/>
<rect x="528" y="143" width="5" height="9" fill="#00FFFF"/>
<rect x="528" y="140" width="5" height="3" fill="#FFFF00"/>
<rect x="528" y="113" width="5" height="27" fill="#993300"/>
<rect x="528" y="65" width="5" height="48" fill="#FF0000"/>
<rect x="528" y="40" width="5" height="25" fill="#008080"/>
<rect x="528.8" y="40.4" width="3.4" height="23.7" fill="#00FFFF" shape-rendering="auto"/>
<rect x="528" y="29" width="5" height="11" fill="#808080"/>
<rect x="537" y="249" width="5" height="81" fill="#0000FF"/>
<rect x="537" y="203" width="5" height="46" fill="#00FF00"/>
<rect x="537" y="160" width="5" height="43" fill="#FF00FF"/>
<rect x="537" y="149" width="5" height="11" fill="#00FFFF"/>
<rect x="537" y="141" width="5" height="8" fill="#FFFF00"/>
<rect x="537" y="125" width="5" height="16" fill="#993300"/>
<rect x="537" y="66" width="5" height="59" fill="#FF0000"/>
<rect x="537" y="41" width="5" height="25" fill="#008080"/>
<rect x="537.8" y="41.4" width="3.4" height="23.7" fill="#00FFFF" shape-rendering="auto"/>
<rect x="537" y="29" width="5" height="12" fill="#808080"/>
<rect x="546" y="250" width="5" height="80" fill="#0000FF"/>
<rect x="546" y="205" width="5" height="45" fill="#00FF00"/>
<rect x="546" y="162" width="5" height="43" fill="#FF00FF"/>
<rect x="546" y="152" width="5" height="10" fill="#00FFFF"/>
<rect x="546" y="142" width="5" height="10" fill="#FFFF00"/>
<rect x="546" y="119" width="5" height="23" fill="#993300"/>
<rect x="546" y="67" width="5" height="52" fill="#FF0000"/>
<rect x="546" y="45" width="5" height="22" fill="#008080"/>
<rect x="546.8" y="45.4" width="3.4" height="20.7" fill="#00FFFF" shape-rendering="auto"/>
<rect x="546" y="29" width="5" height="16" fill="#808080"/>
<rect x="555" y="247" width="5" height="83" fill="#0000FF"/>
<rect x="555" y="201" width="5" height="46" fill="#00FF00"/>
<rect x="555" y="159" width="5" height="42" fill="#FF00FF"/>
<rect x="555" y="149" width="5" height="10" fill="#00FFFF"/>
<rect x="555" y="143" width="5" height="6" fill="#FFFF00"/>
<rect x="555" y="128" width="5" height="15" fill="#993300"/>
<rect x="555" y="66" width="5" height="62" fill="#FF0000"/>
<rect x="555" y="44" width="5" height="22" fill="#008080"/>
<rect x="555.8" y="44.4" width="3.4" height="20.7" fill="#00FFFF" shape-rendering="auto"/>
<rect x="555" y="29" width="5" height="15" fill="#808080"/>
<rect x="564" y="257" width="5" height="73" fill="#0000FF"/>
<rect x="564" y="222" width="5" height="35" fill="#00FF00"/>
<rect x="564" y="163" width="5" height="59" fill="#FF00FF"/>
<rect x="564" y="154" width="5" height="9" fill="#00FFFF"/>
<rect x="564" y="144" width="5" height="10" fill="#FFFF00"/>
<rect x="564" y="120" width="5" height="24" fill="#993300"/>
<rect x="564" y="63" width="5" height="57" fill="#FF0000"/>
<rect x="564" y="41" width="5" height="22" fill="#008080"/>
<rect x="564.8" y="41.4" width="3.4" height="20.7" fill="#00FFFF" shape-rendering="auto"/>
<rect x="564" y="29" width="5" height="12" fill="#808080"/>
<rect x="573" y="246" width="5" height="84" fill="#0000FF"/>
<rect x="573" y="205" width="5" height="41" fill="#00FF00"/>
<rect x="573" y="156" width="5" height="49" fill="#FF00FF"/>
<rect x="573" y="147" width="5" height="9" fill="#00FFFF"/>
<rect x="573" y="144" width="5" height="3" fill="#FFFF00"/>
<rect x="573" y="120" width="5" height="24" fill="#993300"/>
<rect x="573" y="59" width="5" height="61" fill="#FF0000"/>
<rect x="573" y="40" width="5" height="19" fill="#008080"/>
<rect x="573.8" y="40.4" width="3.4" height="17.7" fill="#00FFFF" shape-rendering="auto"/>
<rect x="573" y="29" width="5" height="11" fill="#808080"/>
<rect x="582" y="251" width="5" height="79" fill="#0000FF"/>
<rect x="582" y="208" width="5" height="43" fill="#00FF00"/>
<rect x="582" y="162" width="5" height="46" fill="#FF00FF"/>
<rect x="582" y="151" width="5" height="11" fill="#00FFFF"/>
<rect x="582" y="145" width="5" height="6" fill="#FFFF00"/>
<rect x="582" y="116" width="5" height="29" fill="#993300"/>
<rect x="582" y="58" width="5" height="58" fill="#FF0000"/>
<rect x="582" y="39" width="5" height="19" fill="#008080"/>
<rect x="582.8" y="39.4" width="3.4" height="17.7" fill="#00FFFF" shape-rendering="auto"/>
<rect x="582" y="29" width="5" height="10" fill="#808080"/>
<rect x="591" y="245" width="5" height="85" fill="#0000FF"/>
<rect x="591" y="204" width="5" height="41" fill="#00FF00"/>
<rect x="591" y="159" width="5" height="45" fill="#FF00FF"/>
<rect x="591" y="149" width="5" height="10" fill="#00FFFF"/>
<rect x="591" y="146" width="5" height="3" fill="#FFFF00"/>
<rect x="591" y="136" width="5" height="10" fill="#993300"/>
<rect x="591" y="58" width="5" height="78" fill="#FF0000"/>
<rect x="591" y="39" width="5" height="19" fill="#008080"/>
<rect x="591.8" y="39.4" width="3.4" height="17.7" fill="#00FFFF" shape-rendering="auto"/>
<rect x="591" y="29" width="5" height="10" fill="#808080"/>
<rect x="600" y="253" width="5" height="77" fill="#0000FF"/>
<rect x="600" y="223" width="5" height="30" fill="#00FF00"/>
<rect x="600" y="158" width="5" height="65" fill="#FF00FF"/>
<rect x="600" y="149" width="5" height="9" fill="#00FFFF"/>
<rect x="600" y="147" width="5" height="2" fill="#FFFF00"/>
<rect x="600" y="130" width="5" height="17" fill="#993300"/>
<rect x="600" y="61" width="5" height="69" fill="#FF0000"/>
<rect x="600" y="38" width="5" height="23" fill="#008080"/>
<rect x="600.8" y="38.4" width="3.4" height="21.7" fill="#00FFFF" shape-rendering="auto"/>
<rect x="600" y="29" width="5" height="9" fill="#808080"/>
<rect x="609" y="251" width="5" height="79" fill="#0000FF"/>
<rect x="609" y="215" width="5" height="36" fill="#00FF00"/>
<rect x="609" y="162" width="5" height="53" fill="#FF00FF"/>
<rect x="609" y="153" width="5" height="9" fill="#00FFFF"/>
<rect x="609" y="147" width="5" height="6" fill="#FFFF00"/>
<rect x="609" y="118" width="5" height="29" fill="#993300"/>
<rect x="609" y="75" width="5" height="43" fill="#FF0000"/>
<rect x="609" y="47" width="5" height="28" fill="#008080"/>
<rect x="609.8" y="47.4" width="3.4" height="26.7" fill="#00FFFF" shape-rendering="auto"/>
<rect x="609" y="29" width="5" height="18" fill="#808080"/>
<rect x="618" y="234" width="5" height="96" fill="#0000FF"/>
<rect x="618" y="198" width="5" height="36" fill="#00FF00"/>
<rect x="618" y="166" width="5" height="32" fill="#FF00FF"/>
<rect x="618" y="153" width="5" height="13" fill="#00FFFF"/>
<rect x="618" y="148" width="5" height="5" fill="#FFFF00"/>
<rect x="618" y="130" width="5" height="18" fill="#993300"/>
<rect x="618" y="52" width="5" height="78" fill="#FF0000"/>
<rect x="618" y="35" width="5" height="17" fill="#008080"/>
<rect x="618.8" y="35.4" width="3.4" height="15.7" fill="#00FFFF" shape-rendering="auto"/>
<rect x="618" y="29" width="5" height="6" fill="#808080"/>
<rect x="627" y="250" width="5" height="80" fill="#0000FF"/>
<rect x="627" y="213" width="5" height="37" fill="#00FF00"/>
<rect x="627" y="171" width="5" height="42" fill="#FF00FF"/>
<rect x="627" y="157" width="5" height="14" fill="#00FFFF"/>
<rect x="627" y="150" width="5" height="7" fill="#FFFF00"/>
<rect x="627" y="127" width="5" height="23" fill="#993300"/>
<rect x="627" y="66" width="5" height="61" fill="#FF0000"/>
<rect x="627" y="45" width="5" height="21" fill="#008080"/>
<rect x="627.8" y="45.4" width="3.4" height="19.7" fill="#00FFFF" shape-rendering="auto"/>
<rect x="627" y="29" width="5" height="16" fill="#808080"/>
<rect x="636" y="262" width="5" height="68" fill="#0000FF"/>
<rect x="636" y="223" width="5" height="39" fill="#00FF00"/>
<rect x="636" y="164" width="5" height="59" fill="#FF00FF"/>
<rect x="636" y="156" width="5" height="8" fill="#00FFFF"/>
<rect x="636" y="154" width="5" height="2" fill="#FFFF00"/>
<rect x="636" y="115" width="5" height="39" fill="#993300"/>
<rect x="636" y="63" width="5" height="52" fill="#FF0000"/>
<rect x="636" y="43" width="5" height="20" fill="#008080"/>
<rect x="636.8" y="43.4" width="3.4" height="18.7" fill="#00FFFF" shape-rendering="auto"/>
<rect x="636" y="29" width="5" height="14" fill="#808080"/>
<rect x="645" y="251" width="5" height="79" fill="#0000FF"/>
<rect x="645" y="210" width="5" height="41" fill="#00FF00"/>
<rect x="645" y="168" width="5" height="42" fill="#FF00FF"/>
<rect x="645" y="158" width="5" height="10" fill="#00FFFF"/>
<rect x="645" y="154" width="5" height="4" fill="#FFFF00"/>
<rect x="645" y="129" width="5" height="25" fill="#993300"/>
<rect x="645" y="61" width="5" height="68" fill="#FF0000"/>
<rect x="645" y="41" width="5" height="20" fill="#008080"/>
<rect x="645.8" y="41.4" width="3.4" height="18.7" fill="#00FFFF" shape-rendering="auto"/>
<rect x="645" y="29" width="5" height="12" fill="#808080"/>
<rect x="654" y="258" width="5" height="72" fill="#0000FF"/>
<rect x="654" y="214" width="5" height="44" fill="#00FF00"/>
<rect x="654" y="173" width="5" height="41" fill="#FF00FF"/>
<rect x="654" y="163" width="5" height="10" fill="#00FFFF"/>
<rect x="654" y="154" width="5" height="9" fill="#FFFF00"/>
<rect x="654" y="135" width="5" height="19" fill="#993300"/>
<rect x="654" y="58" width="5" height="77" fill="#FF0000"/>
<rect x="654" y="36" width="5" height="22" fill="#008080"/>
<rect x="654.8" y="36.4" width="3.4" height="20.7" fill="#00FFFF" shape-rendering="auto"/>
<rect x="654" y="29" width="5" height="7" fill="#808080"/>
<rect x="663" y="258" width="6" height="72" fill="#0000FF"/>
<rect x="663" y="222" width="6" height="36" fill="#00FF00"/>
<rect x="663" y="168" width="6" height="54" fill="#FF00FF"/>
<rect x="663" y="158" width="6" height="10" fill="#00FFFF"/>
<rect x="663" y="155" width="6" height="3" fill="#FFFF00"/>
<rect x="663" y="127" width="6" height="28" fill="#993300"/>
<rect x="663" y="67" width="6" height="60" fill="#FF0000"/>
<rect x="663" y="44" width="6" height="23" fill="#008080"/>
<rect x="663.8" y="44.4" width="4.4" height="21.7" fill="#00FFFF" shape-rendering="auto"/>
<rect x="663" y="29" width="6" height="15" fill="#808080"/>
<rect x="672" y="259" width="6" height="71" fill="#0000FF"/>
<rect x="672" y="214" width="6" height="45" fill="#00FF00"/>
<rect x="672" y="167" width="6" height="47" fill="#FF00FF"/>
<rect x="672" y="158" width="6" height="9" fill="#00FFFF"/>
<rect x="672" y="155" width="6" height="3" fill="#FFFF00"/>
<rect x="672" y="133" width="6" height="22" fill="#993300"/>
<rect x="672" y="61" width="6" height="72" fill="#FF0000"/>
<rect x="672" y="42" width="6" height="19" fill="#008080"/>
<rect x="672.8" y="42.4" width="4.4" height="17.7" fill="#00FFFF" shape-rendering="auto"/>
<rect x="672" y="29" width="6" height="13" fill="#808080"/>
<rect x="682" y="238" width="5" height="92" fill="#0000FF"/>
<rect x="682" y="209" width="5" height="29" fill="#00FF00"/>
<rect x="682" y="173" width="5" height="36" fill="#FF00FF"/>
<rect x="682" y="160" width="5" height="13" fill="#00FFFF"/>
<rect x="682" y="156" width="5" height="4" fill="#FFFF00"/>
<rect x="682" y="106" width="5" height="50" fill="#993300"/>
<rect x="682" y="69" width="5" height="37" fill="#FF0000"/>
<rect x="682" y="43" width="5" height="26" fill="#008080"/>
<rect x="682.8" y="43.4" width="3.4" height="24.7" fill="#00FFFF" shape-rendering="auto"/>
<rect x="682" y="29" width="5" height="14" fill="#808080"/>
<rect x="691" y="265" width="5" height="65" fill="#0000FF"/>
<rect x="691" y="232" width="5" height="33" fill="#00FF00"/>
<rect x="691" y="191" width="5" height="41" fill="#FF00FF"/>
<rect x="691" y="180" width="5" height="11" fill="#00FFFF"/>
<rect x="691" y="158" width="5" height="22" fill="#FFFF00"/>
<rect x="691" y="134" width="5" height="24" fill="#993300"/>
<rect x="691" y="66" width="5" height="68" fill="#FF0000"/>
<rect x="691" y="39" width="5" height="27" fill="#008080"/>
<rect x="691.8" y="39.4" width="3.4" height="25.7" fill="#00FFFF" shape-rendering="auto"/>
<rect x="691" y="29" width="5" height="10" fill="#808080"/>
<rect x="700" y="254" width="5" height="76" fill="#0000FF"/>
<rect x="700" y="211" width="5" height="43" fill="#00FF00"/>
<rect x="700" y="175" width="5" height="36" fill="#FF00FF"/>
<rect x="700" y="163" width="5" height="12" fill="#00FFFF"/>
<rect x="700" y="159" width="5" height="4" fill="#FFFF00"/>
<rect x="700" y="127" width="5" height="32" fill="#993300"/>
<rect x="700" y="67" width="5" height="60" fill="#FF0000"/>
<rect x="700" y="37" width="5" height="30" fill="#008080"/>
<rect x="700.8" y="37.4" width="3.4" height="28.7" fill="#00FFFF" shape-rendering="auto"/>
<rect x="700" y="29" width="5" height="8" fill="#808080"/>
<rect x="709" y="246" width="5" height="84" fill="#0000FF"/>
<rect x="709" y="209" width="5" height="37" fill="#00FF00"/>
<rect x="709" y="176" width="5" height="33" fill="#FF00FF"/>
<rect x="709" y="164" width="5" height="12" fill="#00FFFF"/>
<rect x="709" y="161" width="5" height="3" fill="#FFFF00"/>
<rect x="709" y="147" width="5" height="14" fill="#993300"/>
<rect x="709" y="58" width="5" height="89" fill="#FF0000"/>
<rect x="709" y="41" width="5" height="17" fill="#008080"/>
<rect x="709.8" y="41.4" width="3.4" height="15.7" fill="#00FFFF" shape-rendering="auto"/>
<rect x="709" y="29" width="5" height="12" fill="#808080"/>
<rect x="718" y="262" width="5" height="68" fill="#0000FF"/>
<rect x="718" y="217" width="5" height="45" fill="#00FF00"/>
<rect x="718" y="181" width="5" height="36" fill="#FF00FF"/>
<rect x="718" y="170" width="5" height="11" fill="#00FFFF"/>
<rect x="718" y="161" width="5" height="9" fill="#FFFF00"/>
<rect x="718" y="122" width="5" height="39" fill="#993300"/>
<rect x="718" y="50" width="5" height="72" fill="#FF0000"/>
<rect x="718" y="35" width="5" height="15" fill="#008080"/>
<rect x="718.8" y="35.4" width="3.4" height="13.7" fill="#00FFFF" shape-rendering="auto"/>
<rect x="718" y="29" width="5" height="6" fill="#808080"/>
<rect x="727" y="263" width="5" height="67" fill="#0000FF"/>
<rect x="727" y="212" width="5" height="51" fill="#00FF00"/>
<rect x="727" y="183" width="5" height="29" fill="#FF00FF"/>
<rect x="727" y="169" width="5" height="14" fill="#00FFFF"/>
<rect x="727" y="165" width="5" height="4" fill="#FFFF00"/>
<rect x="727" y="106" width="5" height="59" fill="#993300"/>
<rect x="727" y="66" width="5" height="40" fill="#FF0000"/>
<rect x="727" y="42" width="5" height="24" fill="#008080"/>
<rect x="727.8" y="42.4" width="3.4" height="22.7" fill="#00FFFF" shape-rendering="auto"/>
<rect x="727" y="29" width="5" height="13" fill="#808080"/>
<rect x="736" y="256" width="5" height="74" fill="#0000FF"/>
<rect x="736" y="228" width="5" height="28" fill="#00FF00"/>
<rect x="736" y="184" width="5" height="44" fill="#FF00FF"/>
<rect x="736" y="171" width="5" height="13" fill="#00FFFF"/>
<rect x="736" y="169" width="5" height="2" fill="#FFFF00"/>
<rect x="736" y="110" width="5" height="59" fill="#993300"/>
<rect x="736" y="65" width="5" height="45" fill="#FF0000"/>
<rect x="736" y="36" width="5" height="29" fill="#008080"/>
<rect x="736.8" y="36.4" width="3.4" height="27.7" fill="#00FFFF" shape-rendering="auto"/>
<rect x="736" y="29" width="5" height="7" fill="#808080"/>
<rect x="745" y="257" width="5" height="73" fill="#0000FF"/>
<rect x="745" y="220" width="5" height="37" fill="#00FF00"/>
<rect x="745" y="189" width="5" height="31" fill="#FF00FF"/>
<rect x="745" y="177" width="5" height="12" fill="#00FFFF"/>
<rect x="745" y="174" width="5" height="3" fill="#FFFF00"/>
<rect x="745" y="124" width="5" height="50" fill="#993300"/>
<rect x="745" y="53" width="5" height="71" fill="#FF0000"/>
<rect x="745" y="36" width="5" height="17" fill="#008080"/>
<rect x="745.8" y="36.4" width="3.4" height="15.7" fill="#00FFFF" shape-rendering="auto"/>
<rect x="745" y="29" width="5" height="7" fill="#808080"/>
<rect x="754" y="260" width="5" height="70" fill="#0000FF"/>
<rect x="754" y="229" width="5" height="31" fill="#00FF00"/>
<rect x="754" y="192" width="5" height="37" fill="#FF00FF"/>
<rect x="754" y="182" width="5" height="10" fill="#00FFFF"/>
<rect x="754" y="175" width="5" height="7" fill="#FFFF00"/>
<rect x="754" y="133" width="5" height="42" fill="#993300"/>
<rect x="754" y="68" width="5" height="65" fill="#FF0000"/>
<rect x="754" y="37" width="5" height="31" fill="#008080"/>
<rect x="754.8" y="37.4" width="3.4" height="29.7" fill="#00FFFF" shape-rendering="auto"/>
<rect x="754" y="29" width="5" height="8" fill="#808080"/>
<rect x="763" y="281" width="5" height="49" fill="#0000FF"/>
<rect x="763" y="242" width="5" height="39" fill="#00FF00"/>
<rect x="763" y="194" width="5" height="48" fill="#FF00FF"/>
<rect x="763" y="184" width="5" height="10" fill="#00FFFF"/>
<rect x="763" y="177" width="5" height="7" fill="#FFFF00"/>
<rect x="763" y="129" width="5" height="48" fill="#993300"/>
<rect x="763" y="48" width="5" height="81" fill="#FF0000"/>
<rect x="763" y="39" width="5" height="9" fill="#008080"/>
<rect x="763.8" y="39.4" width="3.4" height="7.7" fill="#00FFFF" shape-rendering="auto"/>
<rect x="763" y="29" width="5" height="10" fill="#808080"/>
<rect x="772" y="265" width="5" height="65" fill="#0000FF"/>
<rect x="772" y="236" width="5" height="29" fill="#00FF00"/>
<rect x="772" y="200" width="5" height="36" fill="#FF00FF"/>
<rect x="772" y="191" width="5" height="9" fill="#00FFFF"/>
<rect x="772" y="186" width="5" height="5" fill="#FFFF00"/>
<rect x="772" y="122" width="5" height="64" fill="#993300"/>
<rect x="772" y="62" width="5" height="60" fill="#FF0000"/>
<rect x="772" y="43" width="5" height="19" fill="#008080"/>
<rect x="772.8" y="43.4" width="3.4" height="17.7" fill="#00FFFF" shape-rendering="auto"/>
<rect x="772" y="29" width="5" height="14" fill="#808080"/>
<rect x="781" y="275" width="5" height="55" fill="#0000FF"/>
<rect x="781" y="246" width="5" height="29" fill="#00FF00"/>
<rect x="781" y="212" width="5" height="34" fill="#FF00FF"/>
<rect x="781" y="203" width="5" height="9" fill="#00FFFF"/>
<rect x="781" y="196" width="5" height="7" fill="#FFFF00"/>
<rect x="781" y="176" width="5" height="20" fill="#993300"/>
<rect x="781" y="54" width="5" height="122" fill="#FF0000"/>
<rect x="781" y="36" width="5" height="18" fill="#008080"/>
<rect x="781.8" y="36.4" width="3.4" height="16.7" fill="#00FFFF" shape-rendering="auto"/>
<rect x="781" y="29" width="5" height="7" fill="#808080"/>
<rect x="790" y="278" width="5" height="52" fill="#0000FF"/>
<rect x="790" y="242" width="5" height="36" fill="#00FF00"/>
<rect x="790" y="217" width="5" height="25" fill="#FF00FF"/>
<rect x="790" y="206" width="5" height="11" fill="#00FFFF"/>
<rect x="790" y="200" width="5" height="6" fill="#FFFF00"/>
<rect x="790" y="122" width="5" height="78" fill="#993300"/>
<rect x="790" y="57" width="5" height="65" fill="#FF0000"/>
<rect x="790" y="37" width="5" height="20" fill="#008080"/>
<rect x="790.8" y="37.4" width="3.4" height="18.7" fill="#00FFFF" shape-rendering="auto"/>
<rect x="790" y="29" width="5" height="8" fill="#808080"/>
<rect x="799" y="269" width="5" height="61" fill="#0000FF"/>
<rect x="799" y="242" width="5" height="27" fill="#00FF00"/>
<rect x="799" y="217" width="5" height="25" fill="#FF00FF"/>
<rect x="799" y="209" width="5" height="8" fill="#00FFFF"/>
<rect x="799" y="206" width="5" height="3" fill="#FFFF00"/>
<rect x="799" y="142" width="5" height="64" fill="#993300"/>
<rect x="799" y="66" width="5" height="76" fill="#FF0000"/>
<rect x="799" y="43" width="5" height="23" fill="#008080"/>
<rect x="799.8" y="43.4" width="3.4" height="21.7" fill="#00FFFF" shape-rendering="auto"/>
<rect x="799" y="29" width="5" height="14" fill="#808080"/>
</g>
<text x="472.2" y="16.0" font-size="15.00" font-weight="bold" text-anchor="middle" textLength="594" lengthAdjust="spacingAndGlyphs">Рис. 12. Структура расходов консолидированных бюджетов регионов в 2014 г, %</text>
<text x="33.8" y="34.0" font-size="13.90" text-anchor="end" textLength="33" lengthAdjust="spacingAndGlyphs">100%</text>
<text x="33.8" y="64.0" font-size="13.90" text-anchor="end" textLength="26" lengthAdjust="spacingAndGlyphs">90%</text>
<text x="33.8" y="94.0" font-size="13.90" text-anchor="end" textLength="26" lengthAdjust="spacingAndGlyphs">80%</text>
<text x="33.8" y="124.0" font-size="13.90" text-anchor="end" textLength="26" lengthAdjust="spacingAndGlyphs">70%</text>
<text x="33.8" y="154.0" font-size="13.90" text-anchor="end" textLength="26" lengthAdjust="spacingAndGlyphs">60%</text>
<text x="33.8" y="184.0" font-size="13.90" text-anchor="end" textLength="26" lengthAdjust="spacingAndGlyphs">50%</text>
<text x="33.8" y="215.0" font-size="13.90" text-anchor="end" textLength="26" lengthAdjust="spacingAndGlyphs">40%</text>
<text x="33.8" y="245.0" font-size="13.90" text-anchor="end" textLength="26" lengthAdjust="spacingAndGlyphs">30%</text>
<text x="33.8" y="275.0" font-size="13.90" text-anchor="end" textLength="26" lengthAdjust="spacingAndGlyphs">20%</text>
<text x="33.8" y="305.0" font-size="13.90" text-anchor="end" textLength="26" lengthAdjust="spacingAndGlyphs">10%</text>
<text x="33.8" y="335.0" font-size="13.90" text-anchor="end" textLength="19" lengthAdjust="spacingAndGlyphs">0%</text>
<text transform="translate(54.97,341.0) rotate(-90)" font-size="11.00" text-anchor="end" textLength="77" lengthAdjust="spacing">Респ. Дагестан</text>
<text transform="translate(64.02,341.0) rotate(-90)" font-size="11.00" text-anchor="end" textLength="117" lengthAdjust="spacing">Свердловская область</text>
<text transform="translate(73.07,341.0) rotate(-90)" font-size="11.00" text-anchor="end" textLength="110" lengthAdjust="spacing">Саратовская область</text>
<text transform="translate(82.12,341.0) rotate(-90)" font-size="11.00" text-anchor="end" textLength="84" lengthAdjust="spacing">Чеченская респ.</text>
<text transform="translate(91.17,341.0) rotate(-90)" font-size="11.00" text-anchor="end" textLength="77" lengthAdjust="spacing">Пермский край</text>
<text transform="translate(100.22,341.0) rotate(-90)" font-size="11.00" text-anchor="end" textLength="73" lengthAdjust="spacing">Еврейская АО</text>
<text transform="translate(109.27,341.0) rotate(-90)" font-size="11.00" text-anchor="end" textLength="110" lengthAdjust="spacing">Челябинская область</text>
<text transform="translate(118.32,341.0) rotate(-90)" font-size="11.00" text-anchor="end" textLength="116" lengthAdjust="spacing">Оренбургская область</text>
<text transform="translate(127.37,341.0) rotate(-90)" font-size="11.00" text-anchor="end" textLength="73" lengthAdjust="spacing">Респ. Хакасия</text>
<text transform="translate(136.43,341.0) rotate(-90)" font-size="11.00" text-anchor="end" textLength="79" lengthAdjust="spacing">Алтайский край</text>
<text transform="translate(145.48,341.0) rotate(-90)" font-size="11.00" text-anchor="end" textLength="110" lengthAdjust="spacing">Ульяновская область</text>
<text transform="translate(154.53,341.0) rotate(-90)" font-size="11.00" text-anchor="end" textLength="84" lengthAdjust="spacing">Омская область</text>
<text transform="translate(163.58,341.0) rotate(-90)" font-size="11.00" text-anchor="end" textLength="97" lengthAdjust="spacing">Иркутская область</text>
<text transform="translate(172.63,341.0) rotate(-90)" font-size="11.00" text-anchor="end" textLength="72" lengthAdjust="spacing">респ. Бурятия</text>
<text transform="translate(181.68,341.0) rotate(-90)" font-size="11.00" text-anchor="end" textLength="114" lengthAdjust="spacing">Каб.-Балкарская респ.</text>
<text transform="translate(190.73,341.0) rotate(-90)" font-size="11.00" text-anchor="end" textLength="82" lengthAdjust="spacing">Респ. Калмыкия</text>
<text transform="translate(199.78,341.0) rotate(-90)" font-size="11.00" text-anchor="end" textLength="103" lengthAdjust="spacing">Забайкальский край</text>
<text transform="translate(208.83,341.0) rotate(-90)" font-size="11.00" text-anchor="end" textLength="110" lengthAdjust="spacing">Ставропольский край</text>
<text transform="translate(217.88,341.0) rotate(-90)" font-size="11.00" text-anchor="end" textLength="73" lengthAdjust="spacing">Респ. Карелия</text>
<text transform="translate(226.93,341.0) rotate(-90)" font-size="11.00" text-anchor="end" textLength="58" lengthAdjust="spacing">Респ. Тыва</text>
<text transform="translate(235.98,341.0) rotate(-90)" font-size="11.00" text-anchor="end" textLength="118" lengthAdjust="spacing">Владимирская область</text>
<text transform="translate(245.03,341.0) rotate(-90)" font-size="11.00" text-anchor="end" textLength="114" lengthAdjust="spacing">Кар.-Черкесская респ.</text>
<text transform="translate(254.09,341.0) rotate(-90)" font-size="11.00" text-anchor="end" textLength="68" lengthAdjust="spacing">Респ. Адыгея</text>
<text transform="translate(263.14,341.0) rotate(-90)" font-size="11.00" text-anchor="end" textLength="103" lengthAdjust="spacing">Ростовская область</text>
<text transform="translate(272.19,341.0) rotate(-90)" font-size="11.00" text-anchor="end" textLength="101" lengthAdjust="spacing">Курганская область</text>
<text transform="translate(281.24,341.0) rotate(-90)" font-size="11.00" text-anchor="end" textLength="88" lengthAdjust="spacing">респ.Сев.Осетия</text>
<text transform="translate(290.29,341.0) rotate(-90)" font-size="11.00" text-anchor="end" textLength="108" lengthAdjust="spacing">Мурманская область</text>
<text transform="translate(299.34,341.0) rotate(-90)" font-size="11.00" text-anchor="end" textLength="87" lengthAdjust="spacing">Чувашская респ.</text>
<text transform="translate(308.39,341.0) rotate(-90)" font-size="11.00" text-anchor="end" textLength="57" lengthAdjust="spacing">Респ. Коми</text>
<text transform="translate(317.44,341.0) rotate(-90)" font-size="11.00" text-anchor="end" textLength="118" lengthAdjust="spacing">Волгоградская область</text>
<text transform="translate(326.49,341.0) rotate(-90)" font-size="11.00" text-anchor="end" textLength="91" lengthAdjust="spacing">Удмуртская респ.</text>
<text transform="translate(335.54,341.0) rotate(-90)" font-size="11.00" text-anchor="end" textLength="115" lengthAdjust="spacing">Астраханская область</text>
<text transform="translate(344.59,341.0) rotate(-90)" font-size="11.00" text-anchor="end" textLength="117" lengthAdjust="spacing">Ханты-Мансийский АО</text>
<text transform="translate(353.64,341.0) rotate(-90)" font-size="11.00" text-anchor="end" textLength="120" lengthAdjust="spacing">Архангельская область</text>
<text transform="translate(362.70,341.0) rotate(-90)" font-size="11.00" text-anchor="end" textLength="111" lengthAdjust="spacing">Кемеровская область</text>
<text transform="translate(371.75,341.0) rotate(-90)" font-size="11.00" text-anchor="end" textLength="97" lengthAdjust="spacing">Красноярский край</text>
<text transform="translate(380.80,341.0) rotate(-90)" font-size="11.00" text-anchor="end" textLength="122" lengthAdjust="spacing">Нижегородская область</text>
<text transform="translate(389.85,341.0) rotate(-90)" font-size="11.00" text-anchor="end" textLength="100" lengthAdjust="spacing">Орловская область</text>
<text transform="translate(398.90,341.0) rotate(-90)" font-size="11.00" text-anchor="end" textLength="89" lengthAdjust="spacing">Приморский край</text>
<text transform="translate(407.95,341.0) rotate(-90)" font-size="11.00" text-anchor="end" textLength="107" lengthAdjust="spacing">Смоленская область</text>
<text transform="translate(417.00,341.0) rotate(-90)" font-size="11.00" text-anchor="end" textLength="104" lengthAdjust="spacing">Респ. Башкортостан</text>
<text transform="translate(426.05,341.0) rotate(-90)" font-size="11.00" text-anchor="end" textLength="104" lengthAdjust="spacing">Пензенская область</text>
<text transform="translate(435.10,341.0) rotate(-90)" font-size="11.00" text-anchor="end" textLength="123" lengthAdjust="spacing">Новосибирская область</text>
<text transform="translate(444.15,341.0) rotate(-90)" font-size="11.00" text-anchor="end" textLength="105" lengthAdjust="spacing">Московская область</text>
<text transform="translate(453.20,341.0) rotate(-90)" font-size="11.00" text-anchor="end" textLength="110" lengthAdjust="spacing">Костромская область</text>
<text transform="translate(462.25,341.0) rotate(-90)" font-size="11.00" text-anchor="end" textLength="105" lengthAdjust="spacing">Ивановская область</text>
<text transform="translate(471.30,341.0) rotate(-90)" font-size="11.00" text-anchor="end" textLength="108" lengthAdjust="spacing">Вологодская область</text>
<text transform="translate(480.36,341.0) rotate(-90)" font-size="11.00" text-anchor="end" textLength="88" lengthAdjust="spacing">Томская область</text>
<text transform="translate(489.41,341.0) rotate(-90)" font-size="11.00" text-anchor="end" textLength="87" lengthAdjust="spacing">Респ. Ингушетия</text>
<text transform="translate(498.46,341.0) rotate(-90)" font-size="11.00" text-anchor="end" textLength="111" lengthAdjust="spacing">Ярославская область</text>
<text transform="translate(507.51,341.0) rotate(-90)" font-size="11.00" text-anchor="end" textLength="92" lengthAdjust="spacing">Тверская область</text>
<text transform="translate(516.56,341.0) rotate(-90)" font-size="11.00" text-anchor="end" textLength="85" lengthAdjust="spacing">Курская область</text>
<text transform="translate(525.61,341.0) rotate(-90)" font-size="11.00" text-anchor="end" textLength="97" lengthAdjust="spacing">Рязанская область</text>
<text transform="translate(534.66,341.0) rotate(-90)" font-size="11.00" text-anchor="end" textLength="97" lengthAdjust="spacing">Кировская область</text>
<text transform="translate(543.71,341.0) rotate(-90)" font-size="11.00" text-anchor="end" textLength="111" lengthAdjust="spacing">Воронежская область</text>
<text transform="translate(552.76,341.0) rotate(-90)" font-size="11.00" text-anchor="end" textLength="103" lengthAdjust="spacing">Краснодарский край</text>
<text transform="translate(561.81,341.0) rotate(-90)" font-size="11.00" text-anchor="end" textLength="92" lengthAdjust="spacing">Липецкая область</text>
<text transform="translate(570.86,341.0) rotate(-90)" font-size="11.00" text-anchor="end" textLength="101" lengthAdjust="spacing">Самарская область</text>
<text transform="translate(579.91,341.0) rotate(-90)" font-size="11.00" text-anchor="end" textLength="92" lengthAdjust="spacing">Тульская область</text>
<text transform="translate(588.97,341.0) rotate(-90)" font-size="11.00" text-anchor="end" textLength="80" lengthAdjust="spacing">РФ (без Крыма)</text>
<text transform="translate(598.02,341.0) rotate(-90)" font-size="11.00" text-anchor="end" textLength="92" lengthAdjust="spacing">Брянская область</text>
<text transform="translate(607.07,341.0) rotate(-90)" font-size="11.00" text-anchor="end" textLength="60" lengthAdjust="spacing">респ. Алтай</text>
<text transform="translate(616.12,341.0) rotate(-90)" font-size="11.00" text-anchor="end" textLength="92" lengthAdjust="spacing">Хабаровский край</text>
<text transform="translate(625.17,341.0) rotate(-90)" font-size="11.00" text-anchor="end" textLength="84" lengthAdjust="spacing">Респ. Татарстан</text>
<text transform="translate(634.22,341.0) rotate(-90)" font-size="11.00" text-anchor="end" textLength="81" lengthAdjust="spacing">Респ. Марий Эл</text>
<text transform="translate(643.27,341.0) rotate(-90)" font-size="11.00" text-anchor="end" textLength="94" lengthAdjust="spacing">Амурская область</text>
<text transform="translate(652.32,341.0) rotate(-90)" font-size="11.00" text-anchor="end" textLength="98" lengthAdjust="spacing">Калужская область</text>
<text transform="translate(661.37,341.0) rotate(-90)" font-size="11.00" text-anchor="end" textLength="106" lengthAdjust="spacing">Тамбовская область</text>
<text transform="translate(670.42,341.0) rotate(-90)" font-size="11.00" text-anchor="end" textLength="115" lengthAdjust="spacing">Новгородская область</text>
<text transform="translate(679.47,341.0) rotate(-90)" font-size="11.00" text-anchor="end" textLength="98" lengthAdjust="spacing">Псковская область</text>
<text transform="translate(688.52,341.0) rotate(-90)" font-size="11.00" text-anchor="end" textLength="104" lengthAdjust="spacing">Респ. Саха (Якутия)</text>
<text transform="translate(697.57,341.0) rotate(-90)" font-size="11.00" text-anchor="end" textLength="82" lengthAdjust="spacing">Респ. Мордовия</text>
<text transform="translate(706.63,341.0) rotate(-90)" font-size="11.00" text-anchor="end" textLength="120" lengthAdjust="spacing">Ленинградская область</text>
<text transform="translate(715.68,341.0) rotate(-90)" font-size="11.00" text-anchor="end" textLength="114" lengthAdjust="spacing">Белгородская область</text>
<text transform="translate(724.73,341.0) rotate(-90)" font-size="11.00" text-anchor="end" textLength="68" lengthAdjust="spacing">С.-Петербург</text>
<text transform="translate(733.78,341.0) rotate(-90)" font-size="11.00" text-anchor="end" textLength="110" lengthAdjust="spacing">Магаданская область</text>
<text transform="translate(742.83,341.0) rotate(-90)" font-size="11.00" text-anchor="end" textLength="68" lengthAdjust="spacing">Ненецкий АО</text>
<text transform="translate(751.88,341.0) rotate(-90)" font-size="11.00" text-anchor="end" textLength="131" lengthAdjust="spacing">Калининградская область</text>
<text transform="translate(760.93,341.0) rotate(-90)" font-size="11.00" text-anchor="end" textLength="86" lengthAdjust="spacing">Камчатский край</text>
<text transform="translate(769.98,341.0) rotate(-90)" font-size="11.00" text-anchor="end" textLength="38" lengthAdjust="spacing">Москва</text>
<text transform="translate(779.03,341.0) rotate(-90)" font-size="11.00" text-anchor="end" textLength="106" lengthAdjust="spacing">Ямало-Ненецкий АО</text>
<text transform="translate(788.08,341.0) rotate(-90)" font-size="11.00" text-anchor="end" textLength="102" lengthAdjust="spacing">Тюменская область</text>
<text transform="translate(797.13,341.0) rotate(-90)" font-size="11.00" text-anchor="end" textLength="111" lengthAdjust="spacing">Сахалинская область</text>
<text transform="translate(806.18,341.0) rotate(-90)" font-size="11.00" text-anchor="end" textLength="71" lengthAdjust="spacing">Чукотский АО</text>
<rect x="822" y="62" width="7" height="7" fill="#808080" shape-rendering="crispEdges"/>
<text x="831.5" y="71" font-size="13.90" textLength="46.2" lengthAdjust="spacingAndGlyphs">Прочие</text>
<rect x="822" y="90" width="7" height="8" fill="#008080" shape-rendering="crispEdges"/>
<rect x="822.7" y="90.7" width="5.6" height="6.6" fill="#00FFFF"/>
<text x="831.5" y="99" font-size="13.90" textLength="117.5" lengthAdjust="spacingAndGlyphs">Общегос. расходы</text>
<rect x="822" y="118" width="7" height="8" fill="#FF0000" shape-rendering="crispEdges"/>
<text x="831.5" y="127" font-size="13.90" textLength="96.4" lengthAdjust="spacingAndGlyphs">Нац. экономика</text>
<rect x="822" y="147" width="7" height="7" fill="#993300" shape-rendering="crispEdges"/>
<text x="831.5" y="156" font-size="13.90" textLength="29.6" lengthAdjust="spacingAndGlyphs">ЖКХ</text>
<rect x="822" y="174" width="7" height="8" fill="#FFFF00" shape-rendering="crispEdges"/>
<text x="831.5" y="183" font-size="13.90" textLength="128.0" lengthAdjust="spacingAndGlyphs">Физкультура и спорт</text>
<rect x="822" y="202" width="7" height="8" fill="#00FFFF" shape-rendering="crispEdges"/>
<text x="831.5" y="211" font-size="13.90" textLength="100.9" lengthAdjust="spacingAndGlyphs">Культура и СМИ</text>
<rect x="822" y="231" width="7" height="7" fill="#FF00FF" shape-rendering="crispEdges"/>
<text x="831.5" y="240" font-size="13.90" textLength="84.0" lengthAdjust="spacingAndGlyphs">Соц.политика</text>
<rect x="822" y="259" width="7" height="8" fill="#00FF00" shape-rendering="crispEdges"/>
<text x="831.5" y="268" font-size="13.90" textLength="111.5" lengthAdjust="spacingAndGlyphs">Здравоохранение</text>
<rect x="822" y="287" width="7" height="8" fill="#0000FF" shape-rendering="crispEdges"/>
<text x="831.5" y="296" font-size="13.90" textLength="82.7" lengthAdjust="spacingAndGlyphs">Образование</text>
</svg></body></html>
